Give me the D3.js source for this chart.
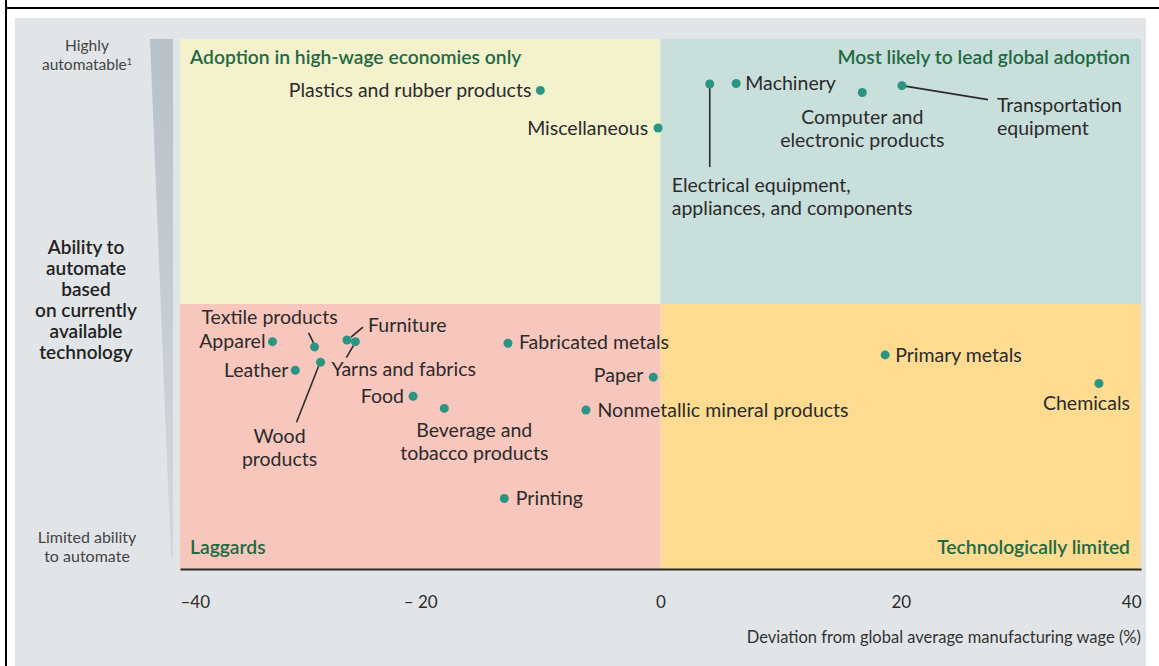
<!DOCTYPE html>
<html><head><meta charset="utf-8">
<script src="https://cdn.jsdelivr.net/npm/d3@7"></script>
<style>body{margin:0;background:#fff} svg{display:block} text{font-family:Lato,"Open Sans",sans-serif}</style>
</head><body><svg id="c" width="1159" height="666"></svg>
<script>
const categories = ["Plastics and rubber products","Miscellaneous","Electrical equipment, appliances, and components","Machinery","Computer and electronic products","Transportation equipment","Apparel","Textile products","Furniture","Yarns and fabrics","Leather","Wood products","Food","Beverage and tobacco products","Fabricated metals","Paper","Nonmetallic mineral products","Printing","Primary metals","Chemicals"];
const wageDeviation = [-10.0,-0.2,4.1,6.3,16.8,20.1,-32.3,-28.8,-26.1,-25.4,-30.4,-28.3,-20.6,-18.0,-12.7,-0.6,-6.2,-13.0,18.7,36.5];
const automationAbility = [90.3,83.2,91.5,91.6,89.9,91.2,42.9,41.9,43.2,42.9,37.5,39.0,32.6,30.3,42.6,36.2,30.0,13.3,40.4,35.0];
const xTicks = [-40,-20,0,20,40];
const xTickLabels = ["\u201340","\u2013 20","0","20","40"];
const quadrantTitles = ["Adoption in high-wage economies only","Most likely to lead global adoption","Laggards","Technologically limited"];
const xAxisTitle = "Deviation from global average manufacturing wage (%)";
const yAxisTitle = ["Ability to","automate","based","on currently","available","technology"];
const yTopLabel = ["Highly","automatable"];
const yBottomLabel = ["Limited ability","to automate"];

// label layout (pixel offsets from each point)
const labelLayout = {
 "Plastics and rubber products":{lines:["Plastics and rubber products"],a:"end",dx:-9,dy:0},
 "Miscellaneous":{lines:["Miscellaneous"],a:"end",dx:-10,dy:0},
 "Electrical equipment, appliances, and components":{lines:["Electrical equipment,","appliances, and components"],a:"start",dx:-38,dy:101,lead:[0,0,0,83]},
 "Machinery":{lines:["Machinery"],a:"start",dx:9,dy:0},
 "Computer and electronic products":{lines:["Computer and","electronic products"],a:"middle",dx:0,dy:25},
 "Transportation equipment":{lines:["Transportation","equipment"],a:"start",dx:95,dy:20,lead:[0,0,86,14]},
 "Apparel":{lines:["Apparel"],a:"end",dx:-7,dy:0},
 "Textile products":{lines:["Textile products"],a:"middle",dx:-45,dy:-30,lead:[-6,-14,-1,-4]},
 "Furniture":{lines:["Furniture"],a:"start",dx:21,dy:-15,lead:[16,-13,4,-3]},
 "Yarns and fabrics":{lines:["Yarns and fabrics"],a:"start",dx:-24,dy:28,lead:[-9,16,-2,4]},
 "Leather":{lines:["Leather"],a:"end",dx:-7,dy:0},
 "Wood products":{lines:["Wood","products"],a:"middle",dx:-41,dy:74,lead:[-24,60,-2,4]},
 "Food":{lines:["Food"],a:"end",dx:-9,dy:0},
 "Beverage and tobacco products":{lines:["Beverage and","tobacco products"],a:"middle",dx:30,dy:22},
 "Fabricated metals":{lines:["Fabricated metals"],a:"start",dx:11,dy:-1},
 "Paper":{lines:["Paper"],a:"end",dx:-10,dy:-2},
 "Nonmetallic mineral products":{lines:["Nonmetallic mineral products"],a:"start",dx:11.5,dy:0},
 "Printing":{lines:["Printing"],a:"start",dx:11.5,dy:0},
 "Primary metals":{lines:["Primary metals"],a:"start",dx:10,dy:0},
 "Chemicals":{lines:["Chemicals"],a:"middle",dx:-12.5,dy:20}
};

const svg = d3.select("#c");
const W=1159,H=666;
const x = d3.scaleLinear().domain([-40,40]).range([180,1141]);
const y = d3.scaleLinear().domain([0,100]).range([569,39]);

svg.append("rect").attr("width",W).attr("height",H).attr("fill","#fff");
svg.append("rect").attr("x",15).attr("y",18).attr("width",1131).attr("height",H-18).attr("fill","#e2e5e8");
svg.append("line").attr("x1",6).attr("x2",6).attr("y1",0).attr("y2",H).attr("stroke","#000").attr("stroke-width",2);
svg.append("line").attr("x1",5).attr("x2",W).attr("y1",8).attr("y2",8).attr("stroke","#000").attr("stroke-width",2);

// wedge
const defs = svg.append("defs");
const g = defs.append("linearGradient").attr("id","wg").attr("x1",0).attr("y1",0).attr("x2",0).attr("y2",1);
g.append("stop").attr("offset",0).attr("stop-color","#b8c0c8");
g.append("stop").attr("offset",1).attr("stop-color","#d3d8dd");
svg.append("path").attr("d",`M150,${y(100)} L173,${y(100)} L173,${y(2)} L171,${y(2)} Z`).attr("fill","url(#wg)");

// quadrants
const quadColors = ["#f4f1cd","#c9dfdb","#f7c6bc","#fddb90"];
const quads = [[-40,0,50,100],[0,40,50,100],[-40,0,0,50],[0,40,0,50]];
svg.selectAll("rect.q").data(quads).join("rect").attr("class","q")
 .attr("x",d=>x(d[0])).attr("width",d=>x(d[1])-x(d[0]))
 .attr("y",d=>y(d[3])).attr("height",d=>y(d[2])-y(d[3]))
 .attr("fill",(d,i)=>quadColors[i]);

// quadrant titles
const qt = [{a:"start",x:x(-40)+10,y:y(100)+18},{a:"end",x:x(40)-11,y:y(100)+18},{a:"start",x:x(-40)+10,y:y(0)-22},{a:"end",x:x(40)-11,y:y(0)-22}];
svg.selectAll("text.qt").data(quadrantTitles).join("text").attr("class","qt")
 .attr("x",(d,i)=>qt[i].x).attr("y",(d,i)=>qt[i].y).attr("dy","0.35em")
 .attr("text-anchor",(d,i)=>qt[i].a).attr("fill","#1f6a44").attr("font-size",19.3).attr("font-weight",600)
 .text(d=>d);

// axis
const xAxis = d3.axisBottom(x).tickValues(xTicks).tickSize(0).tickPadding(0).tickFormat((d,i)=>xTickLabels[i]);
const ax = svg.append("g").attr("transform",`translate(0,${y(0)})`).call(xAxis);
ax.select(".domain").attr("stroke","#2b2b2b").attr("stroke-width",2);
ax.selectAll("text").attr("font-size",17).attr("fill","#2b2b2b").attr("y",33).attr("dy","0.35em")
 .attr("font-family","Lato")
 .attr("text-anchor",(d,i)=>i===0?"start":(i===xTicks.length-1?"end":"middle"));
svg.append("text").attr("x",x(40)).attr("y",637).attr("dy","0.35em").attr("text-anchor","end")
 .attr("font-size",16.5).attr("fill","#333").text(xAxisTitle);

// y labels
svg.append("g").selectAll("text").data(yAxisTitle).join("text")
 .attr("x",86).attr("y",(d,i)=>247+i*21).attr("dy","0.35em").attr("text-anchor","middle")
 .attr("font-size",19).attr("font-weight",600).attr("fill","#222").text(d=>d);
const tl = svg.append("g");
tl.append("text").attr("x",87).attr("y",46).attr("dy","0.35em").attr("text-anchor","middle").attr("font-size",15.5).attr("fill","#444").text(yTopLabel[0]);
const t2 = tl.append("text").attr("x",87).attr("y",65).attr("dy","0.35em").attr("text-anchor","middle").attr("font-size",15.5).attr("fill","#444");
t2.append("tspan").text(yTopLabel[1]);
t2.append("tspan").attr("font-size",9).attr("dy","-0.6em").text("1");
svg.append("g").selectAll("text").data(yBottomLabel).join("text")
 .attr("x",87).attr("y",(d,i)=>537+i*19).attr("dy","0.35em").attr("text-anchor","middle")
 .attr("font-size",16).attr("fill","#444").text(d=>d);

// points
const pts = categories.map((c,i)=>({name:c,px:x(wageDeviation[i]),py:y(automationAbility[i]),L:labelLayout[c]}));
svg.append("g").selectAll("line").data(pts.filter(p=>p.L.lead)).join("line")
 .attr("x1",p=>p.px+p.L.lead[0]).attr("y1",p=>p.py+p.L.lead[1])
 .attr("x2",p=>p.px+p.L.lead[2]).attr("y2",p=>p.py+p.L.lead[3])
 .attr("stroke","#2b2b2b").attr("stroke-width",1.6);
svg.append("g").selectAll("circle").data(pts).join("circle")
 .attr("cx",p=>p.px).attr("cy",p=>p.py).attr("r",4.5).attr("fill","#2a9682");
const lg = svg.append("g").selectAll("text").data(pts).join("text")
 .attr("text-anchor",p=>p.L.a).attr("font-size",19.5).attr("fill","#2b2b2b");
lg.each(function(p){
  const t=d3.select(this);
  p.L.lines.forEach((ln,j)=>{
    t.append("tspan").attr("x",p.px+p.L.dx).attr("y",p.py+p.L.dy+j*23).attr("dy","0.35em").text(ln);
  });
});
</script></body></html>
